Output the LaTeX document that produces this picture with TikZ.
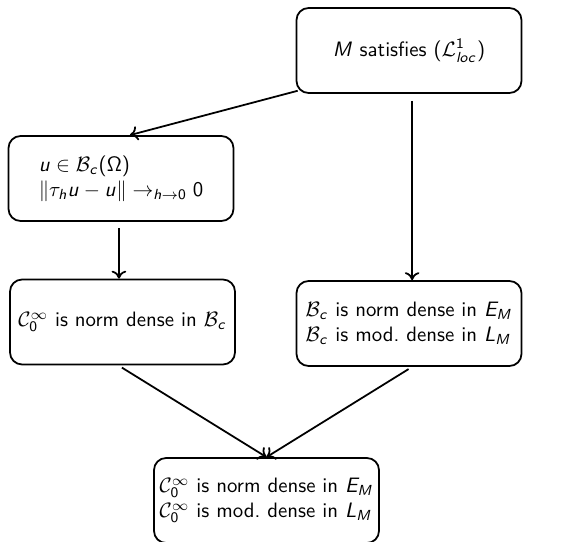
\documentclass[tikz,border=0pt]{standalone}
\usetikzlibrary{shapes, arrows, arrows.meta, positioning}

% sans serif math letters and digits
\DeclareSymbolFont{sfit}{OT1}{cmss}{m}{it}
\SetSymbolFont{operators}{normal}{OT1}{cmss}{m}{n}
\makeatletter
\count@=`a
\loop
  \mathcode\count@=\numexpr "7000+\symsfit*"100+\count@\relax
  \advance\count@ 1
\ifnum\count@<`\{ \repeat
\count@=`A
\loop
  \mathcode\count@=\numexpr "7000+\symsfit*"100+\count@\relax
  \advance\count@ 1
\ifnum\count@<`\[ \repeat
\makeatother

\tikzset{
    block/.style={draw, rounded corners=5.8pt, line width=0.85pt, font=\sffamily, align=left, minimum width=108pt, minimum height=40.8pt, inner sep=2pt},
    line/.style={-{To[length=3.8pt, width=7pt]}, line width=0.85pt}
}

\begin{document}
\begin{tikzpicture}[x=0.48pt, y=-0.48pt]
    \useasboundingbox (0,0) rectangle (568,541);

    \node[block] (sat) at (409,50.5) {$M$ satisfies $(\mathcal{L}^1_{loc})$};
    \node[block] (cont) at (121,178.5) {$u \in \mathcal{B}_c(\Omega)$\\ $\|\tau_h u - u\| \to_{h\to 0} 0$};
    \node[block] (smooth) at (122.5,322) {$\mathcal{C}_0^\infty$ is norm dense in $\mathcal{B}_c$};
    \node[block] (bdd) at (409,323.5) {$\mathcal{B}_c$ is norm dense in $E_M$\\ $\mathcal{B}_c$ is mod.\ dense in $L_M$};
    \node[block] (res) at (266.5,500.5) {$\mathcal{C}_0^\infty$ is norm dense in $E_M$\\ $\mathcal{C}_0^\infty$ is mod.\ dense in $L_M$};

    % arrows
    \draw[line] ([shift={(1pt,1.5pt)}]sat.south west) -- ([xshift=4.3pt]cont.north);
    \draw[line, shorten <=3.4pt] ([xshift=1.5pt]sat.south) -- ([xshift=1.5pt]bdd.north);
    \draw[line, shorten <=3pt] ([xshift=-1pt]cont.south) -- ([xshift=-1.7pt]smooth.north);
    \draw[line, shorten <=2pt] ([xshift=-2pt]smooth.south) -- (res.north);
    \draw[line, shorten <=2pt] ([xshift=1.5pt]bdd.south) -- (res.north);
\end{tikzpicture}
\end{document}
